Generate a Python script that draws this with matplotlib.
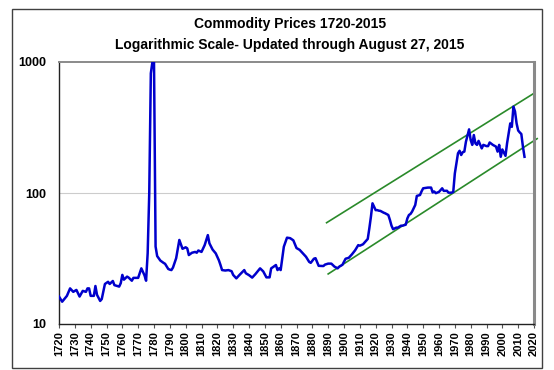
import matplotlib
matplotlib.use("Agg")
import matplotlib.pyplot as plt
from matplotlib.patches import Rectangle
from matplotlib.ticker import FixedLocator, NullLocator

plt.rcParams['font.family'] = ['Liberation Sans', 'DejaVu Sans']

years = [1720, 1722, 1725, 1727, 1729, 1731, 1733, 1735, 1737, 1738, 1739, 1740, 1742, 1743,
         1744, 1746, 1747, 1749, 1751, 1752, 1754, 1755, 1758, 1759, 1760, 1761, 1763, 1764,
         1766, 1767, 1770, 1772, 1774, 1775, 1776, 1777, 1778, 1779, 1780, 1781, 1782, 1784,
         1786, 1787, 1789, 1790, 1791, 1792, 1794, 1796, 1798, 1800, 1801, 1802, 1804, 1806,
         1807, 1808, 1810, 1812, 1814, 1815, 1817, 1819, 1821, 1822, 1823, 1825, 1827, 1829,
         1830, 1832, 1834, 1837, 1838, 1840, 1842, 1844, 1847, 1849, 1851, 1853, 1854, 1855,
         1857, 1858, 1859, 1860, 1862, 1864, 1866, 1868, 1870, 1872, 1874, 1876, 1878, 1879,
         1881, 1882, 1884, 1887, 1888, 1890, 1892, 1894, 1896, 1897, 1899, 1901, 1903, 1905,
         1907, 1909, 1910, 1912, 1914, 1915, 1916, 1917, 1918, 1920, 1921, 1922, 1923, 1925,
         1926, 1928, 1929, 1930, 1931, 1933, 1934, 1936, 1937, 1939, 1940, 1941, 1942, 1943,
         1945, 1946, 1948, 1949, 1950, 1953, 1955, 1956, 1957, 1958, 1960, 1962, 1963, 1965,
         1966, 1968, 1969, 1970, 1972, 1973, 1974, 1975, 1976, 1977, 1979, 1980, 1981, 1982,
         1983, 1984, 1985, 1987, 1988, 1990, 1991, 1992, 1994, 1996, 1997, 1998, 1999, 2000,
         2002, 2003, 2004, 2005, 2006, 2007, 2008, 2009, 2010, 2011, 2012, 2013, 2014]

prices = [16.2, 14.8, 16.4, 18.7, 17.6, 18.2, 16.2, 17.9, 17.6, 18.7, 18.7, 16.4, 16.4, 19.5,
          16.7, 15.0, 15.5, 20.2, 21.0, 20.2, 21.3, 19.8, 19.3, 20.5, 23.7, 21.8, 23.0, 22.6,
          21.4, 22.5, 22.5, 26.6, 23.5, 21.4, 34.7, 100, 820, 1000, 1000, 39, 33, 30.5,
          29.3, 28.8, 26.3, 26.0, 25.8, 27, 31.8, 43.8, 37.5, 38.5, 37.8, 33.6, 35, 35.5,
          35, 36.4, 35.5, 40, 47.7, 41.3, 37, 34.6, 30.6, 28.2, 25.8, 25.6, 25.8, 25.3,
          23.7, 22.3, 23.7, 25.8, 24.4, 23.6, 22.6, 24, 26.6, 25.2, 22.7, 22.7, 26.6, 27.1,
          28.2, 25.8, 26.6, 25.8, 38.9, 45.6, 45.2, 43.5, 38, 36.8, 34.6, 32.6, 29.8, 29.3,
          31.5, 31.8, 27.8, 27.7, 28.4, 28.9, 28.9, 27.4, 26.6, 27.4, 28.3, 31.5, 32, 34,
          36.5, 40, 39.6, 40.6, 43.2, 44.6, 53.7, 65.9, 83.4, 74, 74, 73.3, 73, 70.8,
          70, 67.9, 62.3, 56.3, 52.9, 54.4, 54.4, 56.3, 56.3, 57.3, 63.9, 67.9, 69.2, 72.1,
          81, 95, 96.5, 103, 108.6, 110, 110, 101, 102.6, 99.7, 102, 108.6, 103.8, 104,
          100.6, 100.6, 102, 141, 201, 210, 195, 205, 207, 246, 306, 254, 233, 277,
          239, 233, 250, 219, 233, 228, 228, 243, 233, 226, 207, 233, 189, 215,
          192, 240, 286, 340, 320, 456, 420, 340, 300, 290, 282, 226, 189]

upper_years = [1889, 2020]
upper_vals = [59.3, 577]
lower_years = [1890, 2022]
lower_vals = [24.1, 260]

xtick_years = list(range(1720, 2021, 10))
ytick_vals = [10, 100, 1000]
ytick_labels = ['10', '100', '1000']
title1 = 'Commodity Prices 1720-2015'
title2 = 'Logarithmic Scale- Updated through August 27, 2015'

fig = plt.figure(figsize=(5.54, 3.70), dpi=100)
fig.patch.set_facecolor('white')
ax = fig.add_axes([59/554, 1 - 324/370, 475/554, 262/370])

ax.set_yscale('log')
ax.set_xlim(1720, 2020)
ax.set_ylim(10, 1000)

ax.axhline(100, color='#cccccc', lw=0.8, zorder=0)

ax.plot(upper_years, upper_vals, color='#2a8a2a', lw=1.2, clip_on=False, zorder=2)
ax.plot(lower_years, lower_vals, color='#2a8a2a', lw=1.2, clip_on=False, zorder=2)
ax.plot(years, prices, color='#0000cc', lw=1.8, zorder=3)

ax.yaxis.set_major_locator(FixedLocator(ytick_vals))
ax.yaxis.set_minor_locator(NullLocator())
ax.set_yticklabels(ytick_labels, fontsize=9, fontweight='bold')
ax.tick_params(axis='y', length=0, pad=9)

ax.set_xticks(xtick_years)
ax.set_xticklabels([str(y) for y in xtick_years], rotation=90, fontsize=8, fontweight='bold')
ax.tick_params(axis='x', length=3, width=0.8, pad=2, color='#555555')

ax.spines['left'].set_color('#222222')
ax.spines['bottom'].set_color('#222222')
ax.spines['left'].set_linewidth(1.0)
ax.spines['bottom'].set_linewidth(1.0)
ax.spines['top'].set_color('#8a8a8a')
ax.spines['top'].set_linewidth(1.4)
ax.spines['right'].set_color('#8a8a8a')
ax.spines['right'].set_linewidth(2.2)

fig.text(290/554, 1 - 24/370, title1, ha='center', va='center', fontsize=10, fontweight='bold')
fig.text(290/554, 1 - 45/370, title2, ha='center', va='center', fontsize=10, fontweight='bold')

fig.patches.append(Rectangle((12/554, 2/370), 530/554, 359/370, transform=fig.transFigure,
                             fill=False, edgecolor='#404040', lw=1.0))

fig.savefig('out.png', dpi=100)
